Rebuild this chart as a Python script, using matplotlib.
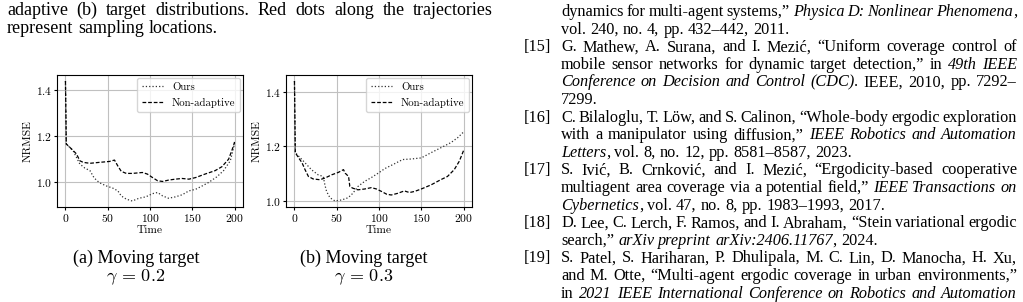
import matplotlib
matplotlib.use("Agg")
import matplotlib.pyplot as plt

plt.rcParams["font.family"] = "cmr10"
plt.rcParams["mathtext.fontset"] = "cm"
plt.rcParams["axes.formatter.use_mathtext"] = True
plt.rcParams["font.size"] = 8

# (a) moving target, gamma = 0.2
t_a_ours = [0, 1, 9, 17, 23, 29, 34, 40, 48, 56, 62, 66, 72, 79, 87, 95, 103, 109,
            115, 122, 130, 138, 146, 154, 162, 169, 179, 187, 195, 199, 200]
nrmse_a_ours = [1.44, 1.166, 1.137, 1.079, 1.061, 1.05, 1.018, 0.998, 0.984, 0.974,
                0.962, 0.94, 0.926, 0.918, 0.93, 0.936, 0.95, 0.955, 0.94, 0.93,
                0.936, 0.945, 0.962, 0.969, 0.984, 0.998, 1.023, 1.05, 1.093, 1.152, 1.17]
t_a_nonadaptive = [0, 1, 7, 13, 17, 21, 29, 40, 52, 58, 62, 66, 72, 79, 91, 97, 103,
                   109, 115, 122, 130, 138, 146, 154, 165, 177, 185, 193, 199, 200]
nrmse_a_nonadaptive = [1.44, 1.166, 1.145, 1.123, 1.093, 1.086, 1.082, 1.086, 1.09,
                       1.096, 1.07, 1.047, 1.038, 1.038, 1.042, 1.035, 1.02, 1.006,
                       1.003, 1.009, 1.013, 1.016, 1.013, 1.02, 1.035, 1.05, 1.067,
                       1.10, 1.16, 1.175]

# (b) moving target, gamma = 0.3
t_b_ours = [0, 1, 7, 12.5, 20, 28, 34, 36, 38, 42, 48, 56, 63.5, 69, 75, 83, 91, 99,
            107, 118, 128, 138, 150, 161.5, 173, 185, 193, 199, 200]
nrmse_b_ours = [1.44, 1.177, 1.158, 1.14, 1.115, 1.096, 1.09, 1.059, 1.035, 1.012,
                1.0, 1.004, 1.012, 1.028, 1.053, 1.072, 1.086, 1.102, 1.119, 1.136,
                1.152, 1.154, 1.158, 1.177, 1.195, 1.214, 1.232, 1.25, 1.252]
t_b_nonadaptive = [0, 1, 5, 9, 12.5, 16.5, 22, 30, 36, 44, 52, 58, 60, 64, 65.5, 69,
                   75, 83, 91, 97, 103, 109, 114.5, 122, 130, 136, 142, 150, 161.5,
                   173, 181, 189, 195, 199, 200]
nrmse_b_nonadaptive = [1.44, 1.177, 1.158, 1.14, 1.115, 1.09, 1.081, 1.078, 1.084,
                       1.096, 1.105, 1.115, 1.102, 1.09, 1.053, 1.047, 1.041, 1.044,
                       1.049, 1.044, 1.035, 1.025, 1.022, 1.028, 1.037, 1.031, 1.035,
                       1.044, 1.059, 1.078, 1.09, 1.115, 1.146, 1.177, 1.185]

x_ticks = [0, 50, 100, 150, 200]
y_ticks = [1.0, 1.2, 1.4]
captions = ["(a) Moving target", "(b) Moving target"]
gammas = [r"$\gamma \,=\, 0.2$", r"$\gamma \,=\, 0.3$"]

# page text, "_" toggles italic
left_lines = [
    "adaptive (b) target distributions. Red dots along the trajectories",
    "represent sampling locations.",
]
ref_lines = [
    ("", "dynamics for multi-agent systems,” _Physica D: Nonlinear Phenomena_,", True),
    ("", "vol. 240, no. 4, pp. 432–442, 2011.", False),
    ("[15]", "G. Mathew, A. Surana, and I. Mezić, “Uniform coverage control of", True),
    ("", "mobile sensor networks for dynamic target detection,” in _49th IEEE_", True),
    ("", "_Conference on Decision and Control (CDC)_. IEEE, 2010, pp. 7292–", True),
    ("", "7299.", False),
    ("[16]", "C. Bilaloglu, T. Löw, and S. Calinon, “Whole-body ergodic exploration", True),
    ("", "with a manipulator using diffusion,” _IEEE Robotics and Automation_", True),
    ("", "_Letters_, vol. 8, no. 12, pp. 8581–8587, 2023.", False),
    ("[17]", "S. Ivić, B. Crnković, and I. Mezić, “Ergodicity-based cooperative", True),
    ("", "multiagent area coverage via a potential field,” _IEEE Transactions on_", True),
    ("", "_Cybernetics_, vol. 47, no. 8, pp. 1983–1993, 2017.", False),
    ("[18]", "D. Lee, C. Lerch, F. Ramos, and I. Abraham, “Stein variational ergodic", True),
    ("", "search,” _arXiv preprint arXiv:2406.11767_, 2024.", False),
    ("[19]", "S. Patel, S. Hariharan, P. Dhulipala, M. C. Lin, D. Manocha, H. Xu,", True),
    ("", "and M. Otte, “Multi-agent ergodic coverage in urban environments,”", True),
    ("", "in _2021 IEEE International Conference on Robotics and Automation_", True),
]

W, H = 1023, 302
fig = plt.figure(figsize=(W / 100, H / 100), dpi=100)
renderer = fig.canvas.get_renderer()
SERIF = "Liberation Serif"


def text_width(s, size, italic):
    t = fig.text(0, 0, s, family=SERIF, size=size,
                 style="italic" if italic else "normal")
    w = t.get_window_extent(renderer).width
    t.remove()
    return w


def put_line(line, x0, x1, yb, size, justify):
    italic = False
    words = []
    for word in line.split(" "):
        if not word:
            continue
        pieces = []
        buf = ""
        for ch in word:
            if ch == "_":
                if buf:
                    pieces.append((buf, italic))
                buf = ""
                italic = not italic
            else:
                buf += ch
        if buf:
            pieces.append((buf, italic))
        widths = [text_width(p, size, it) for p, it in pieces]
        words.append((pieces, widths))
    total = sum(sum(ws) for _, ws in words)
    if justify and len(words) > 1:
        gap = (x1 - x0 - total) / (len(words) - 1)
    else:
        gap = 0.25 * size * 100 / 72
    x = x0
    for pieces, widths in words:
        for (p, it), w in zip(pieces, widths):
            fig.text(x / W, 1 - yb / H, p, family=SERIF, size=size,
                     style="italic" if it else "normal", va="baseline", ha="left")
            x += w
        x += gap


for i, line in enumerate(left_lines):
    put_line(line, 7, 493, 15.2 + 18.2 * i, 13, i == 0)

for i, (label, line, justify) in enumerate(ref_lines):
    yb = 16.0 + 17.6 * i
    if label:
        fig.text(524 / W, 1 - yb / H, label, family=SERIF, size=11.7,
                 va="baseline", ha="left")
    put_line(line, 561, 1017, yb, 11.7, justify)

# plots
panels = [
    (57, t_a_ours, nrmse_a_ours, t_a_nonadaptive, nrmse_a_nonadaptive, 136),
    (286, t_b_ours, nrmse_b_ours, t_b_nonadaptive, nrmse_b_nonadaptive, 364),
]
for k, (left, t1, v1, t2, v2, cx) in enumerate(panels):
    ax = fig.add_axes([left / W, (H - 207) / H, 186 / W, 132 / H])
    ax.plot(t1, v1, ":", color="#333333", lw=0.9, label="Ours")
    ax.plot(t2, v2, "--", color="k", lw=0.9, dashes=(3, 1.5), label="Non-adaptive")
    ax.set_xticks(x_ticks)
    ax.set_yticks(y_ticks)
    ax.grid(True, color="#c0c0c0", lw=0.8)
    ax.set_axisbelow(True)
    ax.set_xlabel("Time", labelpad=1.5, fontsize=8.3)
    ax.set_ylabel("NRMSE", labelpad=2, fontsize=8.3)
    ax.tick_params(labelsize=8.3, length=2, pad=1.5)
    ax.legend(loc="upper right", fontsize=7.8, borderaxespad=0.3)

    fig.text(cx / W, 1 - 262.7 / H, captions[k], family=SERIF, size=13,
             ha="center", va="baseline")
    fig.text(cx / W, 1 - 281.7 / H, gammas[k], size=13, ha="center", va="baseline")

fig.savefig("out.png", dpi=100)
